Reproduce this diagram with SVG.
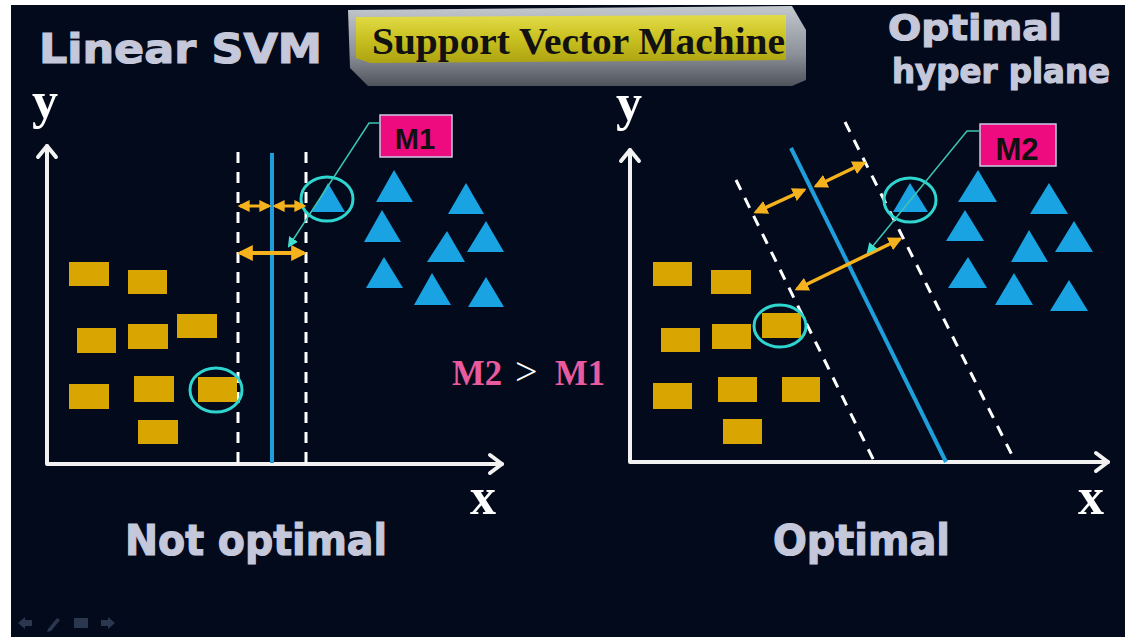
<svg xmlns="http://www.w3.org/2000/svg" width="1125" height="637" viewBox="0 0 1125 637">
  <defs>
    <style>
      .bg { fill: #030a1c; }
      .axis { stroke: #f2f2f2; stroke-width: 4; fill: none; stroke-linecap: round; stroke-linejoin: round; }
      .dash { stroke: #ffffff; stroke-width: 3; stroke-dasharray: 11 9; fill: none; }
      .hyper { stroke: #1e9fdc; stroke-width: 4; fill: none; }
      .box { fill: #d9a500; }
      .tri { fill: #1aa3e2; }
      .ring { fill: none; stroke: #2fd6d0; stroke-width: 3; }
      .marg { stroke: #f6b21c; fill: none; marker-start: url(#oarr); marker-end: url(#oarr); }
      .call { stroke: #3cc4b4; stroke-width: 1.5; fill: none; marker-end: url(#carr); }
      .mbox { fill: #ee0b80; stroke: #c9cbe2; stroke-width: 1.5; }
      .mtxt { font-family: "Liberation Sans", Arial, sans-serif; font-weight: bold; fill: #111111; text-anchor: middle; }
      .head { font-family: "DejaVu Sans", "Liberation Sans", sans-serif; font-weight: bold; fill: #c5c8da; stroke: #c5c8da; stroke-width: 1.2; }
      .axl { font-family: "Liberation Serif", "Times New Roman", serif; font-weight: bold; fill: #ffffff; }
      .cmp { font-family: "Liberation Serif", "DejaVu Serif", serif; font-weight: bold; fill: #ea5a9e; }
      .icon { fill: #2a374f; }
    </style>
    <marker id="oarr" viewBox="0 0 10 10" refX="8" refY="5" markerWidth="4" markerHeight="4" markerUnits="strokeWidth" orient="auto-start-reverse">
      <path d="M0,0 L10,5 L0,10 z" fill="#f6b21c"/>
    </marker>
    <marker id="carr" viewBox="0 0 10 10" refX="8" refY="5" markerWidth="7" markerHeight="7" markerUnits="strokeWidth" orient="auto">
      <path d="M0,0 L10,5 L0,10 z" fill="#3ee0d0"/>
    </marker>
    <linearGradient id="gslab" x1="0" y1="0" x2="0" y2="1">
      <stop offset="0" stop-color="#c4c8cf"/>
      <stop offset="0.6" stop-color="#8c9098"/>
      <stop offset="1" stop-color="#4e525a"/>
    </linearGradient>
    <linearGradient id="gface" x1="0" y1="0" x2="0" y2="1">
      <stop offset="0" stop-color="#e2dc48"/>
      <stop offset="0.5" stop-color="#c9c020"/>
      <stop offset="1" stop-color="#aca312"/>
    </linearGradient>
  </defs>

  <rect x="0" y="0" width="1125" height="637" fill="#ffffff"/>
  <rect class="bg" x="11" y="5" width="1114" height="632"/>

  <!-- Title banner -->
  <g id="title">
    <polygon points="348,10 792,6 806,30 806,80 792,86 368,86 350,68" fill="url(#gslab)"/>
    <polygon points="356,17 786,15 786,60 370,63 356,58" fill="url(#gface)"/>
    <text x="372" y="54" font-family="Liberation Serif, 'Times New Roman', serif" font-weight="bold" font-size="38" fill="#111" textLength="413" lengthAdjust="spacingAndGlyphs">Support Vector Machine</text>
  </g>

  <!-- Headings -->
  <g id="headings">
    <text class="head" x="39" y="63" font-size="40" textLength="283" lengthAdjust="spacingAndGlyphs">Linear SVM</text>
    <text class="head" x="888" y="40" font-size="36" textLength="174" lengthAdjust="spacingAndGlyphs">Optimal</text>
    <text class="head" x="892" y="83" font-size="33" textLength="218" lengthAdjust="spacingAndGlyphs">hyper plane</text>
    <text class="head" x="125" y="555" font-size="42" textLength="262" lengthAdjust="spacingAndGlyphs">Not optimal</text>
    <text class="head" x="773" y="555" font-size="42" textLength="177" lengthAdjust="spacingAndGlyphs">Optimal</text>
  </g>

  <!-- Left plot -->
  <g id="left-axes">
    <polyline class="axis" points="47,146 47,464 502,464"/>
    <polyline class="axis" points="38,157 47,146 56,157"/>
    <polyline class="axis" points="490,455 502,464 490,473"/>
    <text class="axl" x="32" y="118" font-size="52">y</text>
    <text class="axl" x="470" y="514" font-size="52">x</text>
  </g>
  <g id="left-planes">
    <line class="dash" x1="238" y1="152" x2="238" y2="463"/>
    <line class="dash" x1="306" y1="152" x2="306" y2="463"/>
    <line class="hyper" x1="272" y1="153" x2="272" y2="463"/>
  </g>
  <g id="left-squares">
    <rect class="box" x="69" y="262" width="40" height="24"/>
    <rect class="box" x="128" y="270" width="39" height="24"/>
    <rect class="box" x="77" y="328" width="39" height="25"/>
    <rect class="box" x="128" y="324" width="40" height="25"/>
    <rect class="box" x="177" y="314" width="40" height="24"/>
    <rect class="box" x="69" y="384" width="40" height="25"/>
    <rect class="box" x="134" y="376" width="40" height="26"/>
    <rect class="box" x="198" y="377" width="39" height="25"/>
    <rect class="box" x="138" y="420" width="40" height="24"/>
    <ellipse class="ring" cx="216" cy="390" rx="26" ry="22"/>
  </g>
  <g id="left-triangles">
    <polygon class="tri" points="328,183 345,212 312,212"/>
    <polygon class="tri" points="394,170 413,202 376,202"/>
    <polygon class="tri" points="466,183 484,214 448,214"/>
    <polygon class="tri" points="382,210 401,242 364,242"/>
    <polygon class="tri" points="447,231 465,262 427,262"/>
    <polygon class="tri" points="486,221 504,252 467,252"/>
    <polygon class="tri" points="384,257 403,288 366,288"/>
    <polygon class="tri" points="432,273 451,305 414,305"/>
    <polygon class="tri" points="486,277 504,307 468,307"/>
    <ellipse class="ring" cx="327" cy="199" rx="26" ry="22"/>
  </g>
  <g id="label-m1">
    <rect class="mbox" x="380" y="115" width="72" height="42"/>
    <text class="mtxt" x="415" y="149" font-size="29">M1</text>
  </g>

  <!-- Comparison -->
  <g id="compare">
    <text class="cmp" x="452" y="385" font-size="35" textLength="50" lengthAdjust="spacingAndGlyphs">M2</text>
    <text x="515" y="385" font-family="Liberation Serif, serif" font-size="40" fill="#ffffff">&gt;</text>
    <text class="cmp" x="555" y="385" font-size="35" textLength="50" lengthAdjust="spacingAndGlyphs">M1</text>
  </g>

  <!-- Right plot -->
  <g id="right-axes">
    <polyline class="axis" points="630,150 630,462 1108,462"/>
    <polyline class="axis" points="621,161 630,150 639,161"/>
    <polyline class="axis" points="1096,453 1108,462 1096,471"/>
    <text class="axl" x="616" y="120" font-size="52">y</text>
    <text class="axl" x="1078" y="514" font-size="52">x</text>
  </g>
  <g id="right-planes">
    <line class="dash" x1="736" y1="180" x2="874" y2="461"/>
    <line class="dash" x1="845" y1="122" x2="1015" y2="461"/>
    <line class="hyper" x1="791" y1="148" x2="946" y2="462"/>
  </g>
  <g id="right-squares">
    <rect class="box" x="653" y="262" width="39" height="24"/>
    <rect class="box" x="711" y="270" width="40" height="24"/>
    <rect class="box" x="661" y="328" width="39" height="24"/>
    <rect class="box" x="712" y="324" width="39" height="25"/>
    <rect class="box" x="762" y="313" width="39" height="25"/>
    <rect class="box" x="653" y="383" width="39" height="26"/>
    <rect class="box" x="718" y="377" width="39" height="25"/>
    <rect class="box" x="782" y="377" width="38" height="25"/>
    <rect class="box" x="723" y="419" width="39" height="25"/>
    <ellipse class="ring" cx="780" cy="326" rx="26" ry="21"/>
  </g>
  <g id="right-triangles">
    <polygon class="tri" points="910,183 928,212 893,212"/>
    <polygon class="tri" points="978,170 997,202 958,202"/>
    <polygon class="tri" points="1049,183 1068,214 1030,214"/>
    <polygon class="tri" points="965,210 984,241 946,241"/>
    <polygon class="tri" points="1029,230 1048,262 1011,262"/>
    <polygon class="tri" points="1074,221 1093,252 1055,252"/>
    <polygon class="tri" points="968,257 987,288 948,288"/>
    <polygon class="tri" points="1014,273 1033,305 995,305"/>
    <polygon class="tri" points="1069,280 1088,311 1050,311"/>
    <ellipse class="ring" cx="910" cy="200" rx="26" ry="22"/>
  </g>
  <g id="label-m2">
    <rect class="mbox" x="980" y="124" width="76" height="42"/>
    <text class="mtxt" x="1017" y="160" font-size="31">M2</text>
  </g>

  <!-- Connectors -->
  <g id="connectors">
    <line class="marg" stroke-width="3" x1="240" y1="206" x2="269" y2="206"/>
    <line class="marg" stroke-width="3" x1="275" y1="206" x2="304" y2="206"/>
    <line class="marg" stroke-width="4" x1="240" y1="253" x2="304" y2="253"/>
    <line class="marg" stroke-width="3.5" x1="756" y1="212" x2="804" y2="190"/>
    <line class="marg" stroke-width="3.5" x1="816" y1="186" x2="864" y2="163"/>
    <line class="marg" stroke-width="3.5" x1="797" y1="289" x2="900" y2="239"/>
    <polyline class="call" points="380,123 369,123 289,246"/>
    <polyline class="call" points="980,131 967,131 868,252"/>
  </g>

  <!-- Toolbar -->
  <g id="toolbar">
    <polygon class="icon" points="18,623 25,617 25,620 32,620 32,626 25,626 25,629"/>
    <polygon class="icon" points="48,629 57,618 60,620 51,631 47,632"/>
    <rect class="icon" x="74" y="618" width="14" height="10"/>
    <polygon class="icon" points="115,623 108,617 108,620 101,620 101,626 108,626 108,629"/>
  </g>
</svg>
